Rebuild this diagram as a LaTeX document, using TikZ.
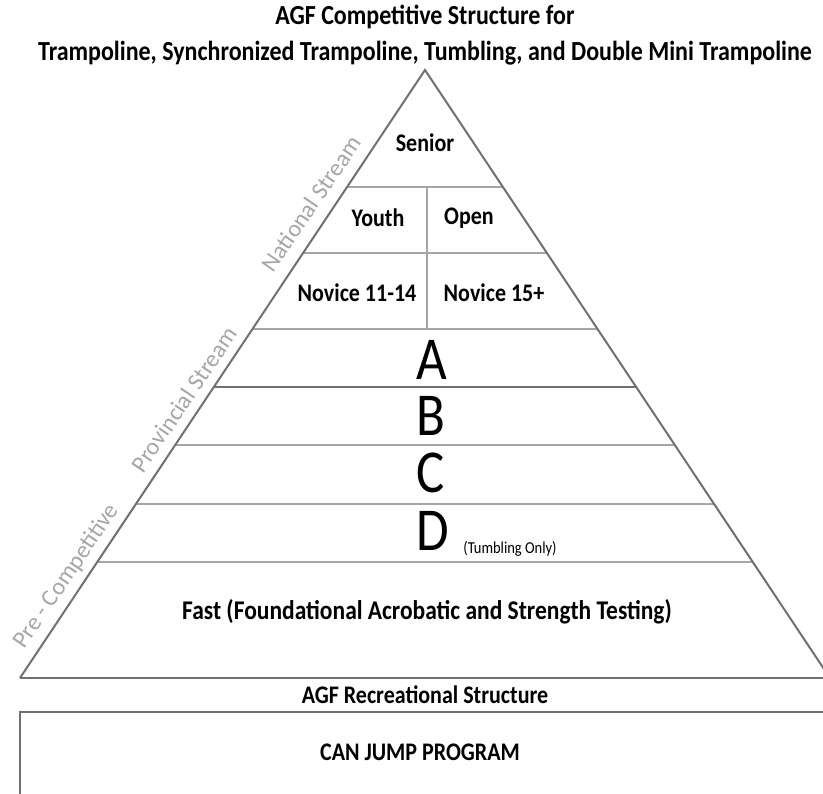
\documentclass[tikz,border=0pt]{standalone}
\usepackage{fontspec}
\setmainfont{Carlito}
\definecolor{edgegray}{HTML}{707070}
\definecolor{linegray}{HTML}{A6A6A6}
\definecolor{streamgray}{HTML}{A6A6A6}
\newcommand{\vstretch}[1]{\scalebox{1}[1.15]{#1}}
\tikzset{
  edge/.style={draw=edgegray, line width=2pt},
  divider/.style={draw=linegray, line width=1.3pt},
  strongdivider/.style={draw=edgegray, line width=1.8pt},
  lbl/.style={font=\bfseries\fontsize{22}{24}\selectfont, inner sep=0pt},
  ttl/.style={font=\bfseries\fontsize{24}{25}\selectfont, inner sep=0pt},
  fastlbl/.style={font=\bfseries\fontsize{23.5}{25}\selectfont, inner sep=0pt},
  letter/.style={font=\fontsize{53}{53}\selectfont, inner sep=0pt, anchor=west},
  stream/.style={font=\fontsize{24}{25}\selectfont, text=streamgray, inner sep=0pt, rotate=55.8, anchor=base},
}
\begin{document}
\begin{tikzpicture}[x=1pt,y=-1pt]
\useasboundingbox (0,0) rectangle (823,794);
% geometry
\coordinate (apex) at (425,70);
\coordinate (bl) at (20,678);
\coordinate (br) at (830,678);
\foreach \yy/\sty in {187/divider,253/divider,329/divider,387/strongdivider,445/divider,504/divider,562/divider}{
  \pgfmathsetmacro{\xl}{425-0.6661*(\yy-70)}
  \pgfmathsetmacro{\xr}{425+0.6661*(\yy-70)}
  \draw[\sty] (\xl,\yy) -- (\xr,\yy);
}
\coordinate (dtop) at (427,187);
\coordinate (dbot) at (427,329);
\draw[divider] (dtop) -- (dbot);
\draw[edge, line join=miter] (bl) -- (apex) -- (br);
\draw[edge, line width=2.6pt] (bl) -- (br);
% bottom rect
\coordinate (r1) at (20,712);
\coordinate (r2) at (832,795);
\draw[edge] (r1) rectangle (r2);
% titles
\node[ttl] (t1) at (425,17) {\vstretch{AGF Competitive Structure for}};
\node[ttl] (t2) at (425,53) {\vstretch{Trampoline, Synchronized Trampoline, Tumbling, and Double Mini Trampoline}};
% labels
\node[lbl] (senior) at (425,143) {\vstretch{Senior}};
\node[lbl] (youth) at (378,218) {\vstretch{Youth}};
\node[lbl] (open) at (469,218) {\vstretch{Open}};
\node[lbl] (nov1) at (357,293) {\vstretch{Novice 11-14}};
\node[lbl] (nov2) at (494,293) {\vstretch{Novice 15+}};
\node[letter] (A) at (416,360) {\vstretch{A}};
\node[letter] (B) at (416,416) {\vstretch{B}};
\node[letter] (C) at (416,473) {\vstretch{C}};
\node[letter] (D) at (416,531) {\vstretch{D}};
\node[font=\fontsize{14.5}{15}\selectfont, inner sep=0pt] (tumb) at (510,549) {\vstretch{(Tumbling Only)}};
\node[fastlbl] (fast) at (427,612) {\vstretch{Fast (Foundational Acrobatic and Strength Testing)}};
\node[lbl] (rec) at (425,695) {\vstretch{AGF Recreational Structure}};
\node[lbl] (can) at (420,752) {\vstretch{CAN JUMP PROGRAM}};
% streams
\node[stream] (nat) at (318,208) {National Stream};
\node[stream] (prov) at (191,404) {Provincial Stream};
\node[stream] (pre) at (72,580) {Pre - Competitive};
\end{tikzpicture}
\end{document}
